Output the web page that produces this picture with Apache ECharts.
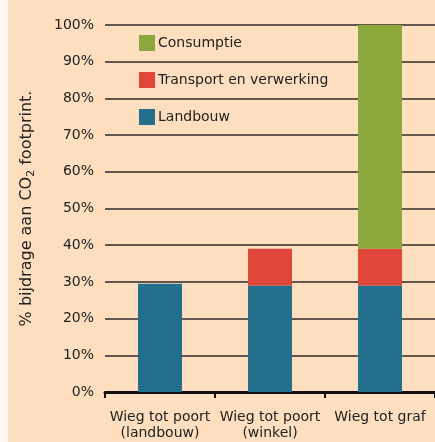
<!DOCTYPE html>
<html>
<head>
<meta charset="utf-8">
<script src="https://cdn.jsdelivr.net/npm/echarts@6/dist/echarts.min.js"></script>
<style>
  html, body { margin: 0; padding: 0; background: #fff; }
  #main { width: 435px; height: 442px; }
</style>
</head>
<body>
<div id="main"></div>
<script>
// categorieën en waarden (% bijdrage)
var categories = ["Wieg tot poort\n(landbouw)", "Wieg tot poort\n(winkel)", "Wieg tot graf"];
var landbouw = [29.5, 29, 29];
var transport = [0, 10, 10];
var consumptie = [0, 0, 61];
var seriesNames = ["Landbouw", "Transport en verwerking", "Consumptie"];

var chart = echarts.init(document.getElementById("main"));
var font = "'DejaVu Sans', sans-serif";

var option = {
  backgroundColor: "#FDDFC0",
  textStyle: { fontFamily: font },
  graphic: [
    {
      type: "rect",
      left: 0, top: 0,
      shape: { width: 8, height: 442 },
      style: { fill: "#FFF8F0" },
      silent: true
    }
  ],
  legend: {
    orient: "vertical",
    left: 139,
    top: 35,
    itemWidth: 16,
    itemHeight: 16,
    itemGap: 21,
    icon: "rect",
    data: ["Consumptie", "Transport en verwerking", "Landbouw"],
    textStyle: { fontSize: 14, color: "#222", fontFamily: font, padding: [0, 0, 0, -2] },
    padding: 0
  },
  grid: {
    left: 105,
    right: -9,
    top: 25,
    bottom: 50
  },
  xAxis: {
    type: "category",
    data: categories,
    axisLine: { lineStyle: { color: "#111", width: 3 } },
    axisTick: { show: true, length: 6, lineStyle: { color: "#111", width: 2 } },
    axisLabel: { fontSize: 14, color: "#222", lineHeight: 16, margin: 17, interval: 0 }
  },
  yAxis: {
    type: "value",
    min: 0,
    max: 100,
    interval: 10,
    name: "% bijdrage aan CO{sub|2} footprint.",
    nameLocation: "middle",
    nameGap: 68,
    nameTextStyle: {
      fontSize: 16, color: "#222",
      rich: { sub: { fontSize: 11, padding: [9, 0, 0, 0] } }
    },
    axisLine: { show: false },
    axisTick: { show: false },
    axisLabel: { formatter: "{value}%", fontSize: 14, color: "#222", margin: 11 },
    splitLine: { lineStyle: { color: "#2e2a26", width: 1.5 } }
  },
  series: [
    {
      name: seriesNames[0], type: "bar", stack: "tot", data: landbouw,
      barWidth: "40%", itemStyle: { color: "#256F8E" }
    },
    {
      name: seriesNames[1], type: "bar", stack: "tot", data: transport,
      itemStyle: { color: "#E0473A" }
    },
    {
      name: seriesNames[2], type: "bar", stack: "tot", data: consumptie,
      itemStyle: { color: "#8BA63A" }
    }
  ]
};

chart.setOption(option);
</script>
</body>
</html>
